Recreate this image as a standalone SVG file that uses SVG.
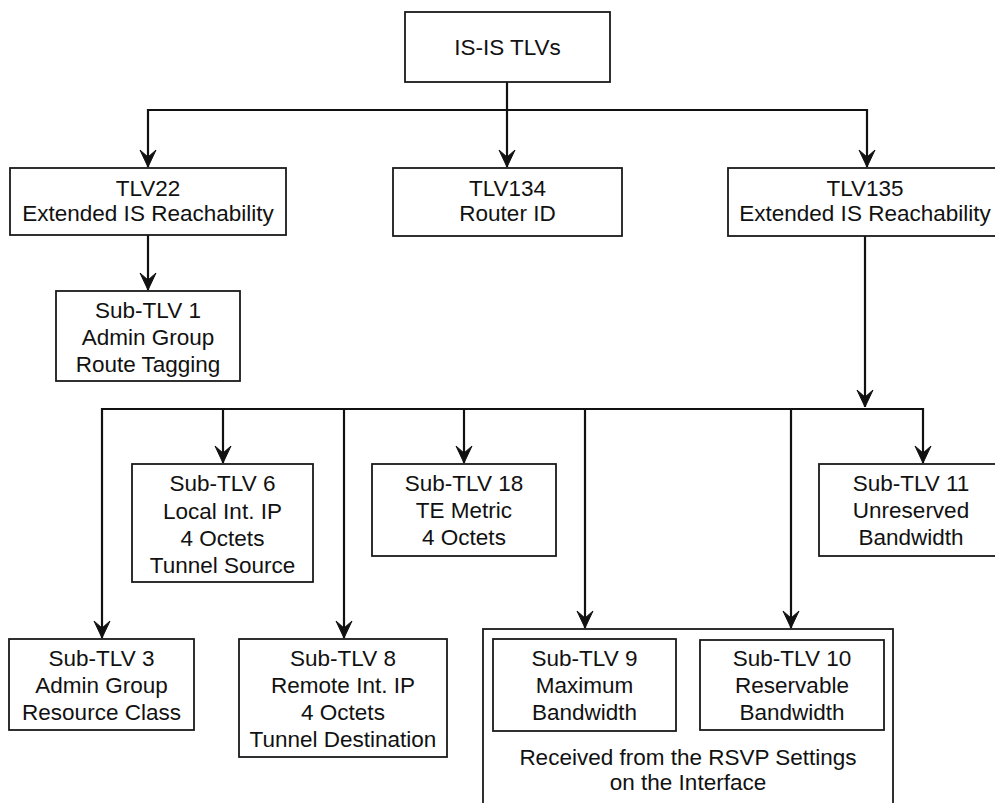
<svg xmlns="http://www.w3.org/2000/svg" width="995" height="803" viewBox="0 0 995 803">
  <style>
    .box { fill: #fff; stroke: #1a1a1a; stroke-width: 1.8; }
    .frame { fill: none; stroke: #1a1a1a; stroke-width: 1.8; }
    .wire { fill: none; stroke: #111; stroke-width: 2.2; }
    .lbl { font-family: "Liberation Sans", Arial, sans-serif; font-size: 22.5px; fill: #111; text-anchor: middle; }
  </style>
  <defs>
    <!-- notched dart arrowhead, tip at the path end -->
    <marker id="arrow" viewBox="-18 -9 19 18" refX="0" refY="0" markerWidth="19" markerHeight="18" markerUnits="userSpaceOnUse" orient="auto-start-reverse">
      <path d="M0,0 L-17,-8 L-10,0 L-17,8 Z" fill="#111" stroke="#111" stroke-width="1" stroke-linejoin="round"/>
    </marker>
  </defs>
  <rect width="995" height="803" fill="#fff"/>

  <!-- connectors -->
  <g id="connectors">
    <line class="wire" x1="507" y1="82" x2="507" y2="167" marker-end="url(#arrow)"/>
    <polyline class="wire" points="148,167 148,110 867,110 867,167" marker-start="url(#arrow)" marker-end="url(#arrow)"/>
    <line class="wire" x1="148" y1="235" x2="148" y2="290" marker-end="url(#arrow)"/>
    <line class="wire" x1="865" y1="236" x2="865" y2="407" marker-end="url(#arrow)"/>
    <line class="wire" x1="101" y1="409" x2="924" y2="409"/>
    <line class="wire" x1="102" y1="408" x2="102" y2="638" marker-end="url(#arrow)"/>
    <line class="wire" x1="223" y1="408" x2="223" y2="463" marker-end="url(#arrow)"/>
    <line class="wire" x1="344" y1="408" x2="344" y2="638" marker-end="url(#arrow)"/>
    <line class="wire" x1="464" y1="408" x2="464" y2="463" marker-end="url(#arrow)"/>
    <line class="wire" x1="585" y1="408" x2="585" y2="628" marker-end="url(#arrow)"/>
    <line class="wire" x1="791" y1="408" x2="791" y2="628" marker-end="url(#arrow)"/>
    <line class="wire" x1="923" y1="408" x2="923" y2="463" marker-end="url(#arrow)"/>
  </g>

  <g id="is-is-tlvs">
    <rect class="box" x="405" y="12" width="205" height="70"/>
    <text class="lbl" x="507.5" y="55">IS-IS TLVs</text>
  </g>

  <g id="tlv22">
    <rect class="box" x="10" y="168" width="276" height="67"/>
    <text class="lbl" x="148" y="196">TLV22</text>
    <text class="lbl" x="148" y="221">Extended IS Reachability</text>
  </g>

  <g id="tlv134">
    <rect class="box" x="393" y="168" width="229" height="68"/>
    <text class="lbl" x="507.5" y="196">TLV134</text>
    <text class="lbl" x="507.5" y="221">Router ID</text>
  </g>

  <g id="tlv135">
    <rect class="box" x="728" y="168" width="276" height="68"/>
    <text class="lbl" x="865" y="196">TLV135</text>
    <text class="lbl" x="865" y="221">Extended IS Reachability</text>
  </g>

  <g id="sub-tlv-1">
    <rect class="box" x="56" y="291" width="184" height="90"/>
    <text class="lbl" x="148" y="318">Sub-TLV 1</text>
    <text class="lbl" x="148" y="345">Admin Group</text>
    <text class="lbl" x="148" y="372">Route Tagging</text>
  </g>

  <g id="sub-tlv-6">
    <rect class="box" x="132" y="464" width="181" height="118"/>
    <text class="lbl" x="222.5" y="491">Sub-TLV 6</text>
    <text class="lbl" x="222.5" y="519">Local Int. IP</text>
    <text class="lbl" x="222.5" y="546">4 Octets</text>
    <text class="lbl" x="222.5" y="573">Tunnel Source</text>
  </g>

  <g id="sub-tlv-18">
    <rect class="box" x="372" y="464" width="184" height="92"/>
    <text class="lbl" x="464" y="491">Sub-TLV 18</text>
    <text class="lbl" x="464" y="518">TE Metric</text>
    <text class="lbl" x="464" y="545">4 Octets</text>
  </g>

  <g id="sub-tlv-11">
    <rect class="box" x="819" y="464" width="184" height="92"/>
    <text class="lbl" x="911" y="491">Sub-TLV 11</text>
    <text class="lbl" x="911" y="518">Unreserved</text>
    <text class="lbl" x="911" y="545">Bandwidth</text>
  </g>

  <g id="sub-tlv-3">
    <rect class="box" x="9" y="639" width="185" height="91"/>
    <text class="lbl" x="101.5" y="666">Sub-TLV 3</text>
    <text class="lbl" x="101.5" y="693">Admin Group</text>
    <text class="lbl" x="101.5" y="720">Resource Class</text>
  </g>

  <g id="sub-tlv-8">
    <rect class="box" x="239" y="639" width="208" height="118"/>
    <text class="lbl" x="343" y="666">Sub-TLV 8</text>
    <text class="lbl" x="343" y="693">Remote Int. IP</text>
    <text class="lbl" x="343" y="720">4 Octets</text>
    <text class="lbl" x="343" y="747">Tunnel Destination</text>
  </g>

  <!-- RSVP-derived sub-TLVs, grouped in an open frame -->
  <g id="rsvp-group">
    <rect class="frame" x="483" y="629" width="410" height="190"/>
    <text class="lbl" x="688" y="765">Received from the RSVP Settings</text>
    <text class="lbl" x="688" y="790">on the Interface</text>
  </g>

  <g id="sub-tlv-9">
    <rect class="box" x="493" y="639" width="183" height="92"/>
    <text class="lbl" x="584.5" y="666">Sub-TLV 9</text>
    <text class="lbl" x="584.5" y="693">Maximum</text>
    <text class="lbl" x="584.5" y="720">Bandwidth</text>
  </g>

  <g id="sub-tlv-10">
    <rect class="box" x="700" y="640" width="184" height="90"/>
    <text class="lbl" x="792" y="666">Sub-TLV 10</text>
    <text class="lbl" x="792" y="693">Reservable</text>
    <text class="lbl" x="792" y="720">Bandwidth</text>
  </g>
</svg>
